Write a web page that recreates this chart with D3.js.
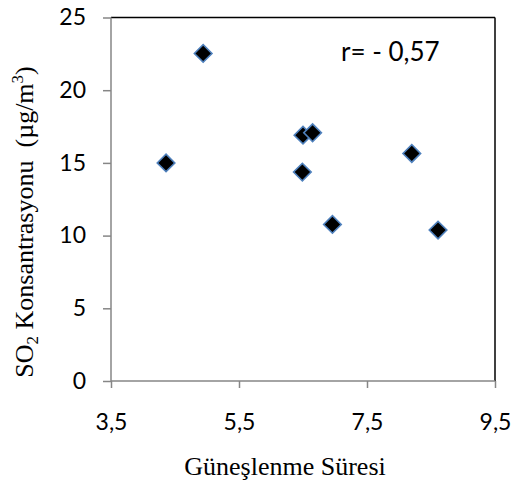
<!DOCTYPE html>
<html><head><meta charset="utf-8">
<script src="https://cdn.jsdelivr.net/npm/d3@7"></script>
<style>body{margin:0;background:#fff}svg{display:block}</style>
</head><body>
<svg id="c" width="514" height="491"></svg>
<script>
const xValues = [4.36, 4.94, 6.50, 6.65, 6.49, 8.20, 6.96, 8.61];
const yValues = [15.0, 22.53, 16.91, 17.07, 14.37, 15.65, 10.77, 10.38];
const xTicks = [3.5, 5.5, 7.5, 9.5];
const yTicks = [0, 5, 10, 15, 20, 25];
const xTitle = "Güneşlenme Süresi";
const rLabel = "r= - 0,57";

const svg = d3.select("#c");
const L = 111, R = 495, T = 17.5, B = 381;
const x = d3.scaleLinear().domain([3.5, 9.5]).range([L, R]);
const y = d3.scaleLinear().domain([0, 25]).range([B, T]);
const fmt = d => String(d).replace(".", ",");

svg.append("line").attr("x1", L).attr("x2", R).attr("y1", T).attr("y2", T).attr("stroke", "#000").attr("stroke-width", 1.5);
svg.append("line").attr("x1", R).attr("x2", R).attr("y1", T).attr("y2", B).attr("stroke", "#000").attr("stroke-width", 1.5);

const gx = svg.append("g").attr("transform", `translate(0,${B})`)
  .call(d3.axisBottom(x).tickValues(xTicks).tickFormat(fmt).tickSize(7).tickPadding(26));
const gy = svg.append("g").attr("transform", `translate(${L},0)`)
  .call(d3.axisLeft(y).tickValues(yTicks).tickSize(8).tickPadding(17));
[gx, gy].forEach(g => {
  g.select(".domain").attr("stroke", "#868686").attr("stroke-width", 1.5);
  g.selectAll(".tick line").attr("stroke", "#868686").attr("stroke-width", 1.5);
  g.selectAll(".tick text").attr("font-family", "Lato, 'Open Sans', sans-serif").attr("font-size", 23).attr("fill", "#000");
});
gy.select(".domain").attr("d", `M0,${B}V${T}`);
gx.select(".domain").attr("d", `M${L},0H${R}`);

const sym = d3.symbol().type(d3.symbolSquare).size(155);
svg.append("g").selectAll("path").data(xValues.map((v, i) => [v, yValues[i]])).join("path")
  .attr("d", sym)
  .attr("transform", d => `translate(${x(d[0])},${y(d[1])}) rotate(45)`)
  .attr("fill", "#000").attr("stroke", "#4f81bd").attr("stroke-width", 1.6);

svg.append("text").attr("x", 341).attr("y", 61).attr("font-family", "Lato, 'Open Sans', sans-serif")
  .attr("font-size", 26).attr("fill", "#000").text(rLabel);

svg.append("text").attr("x", 285).attr("y", 475).attr("text-anchor", "middle")
  .attr("font-family", "'Liberation Serif', 'Times New Roman', serif").attr("font-size", 26).text(xTitle);

const yt = svg.append("text").attr("transform", "translate(33,222) rotate(-90)").attr("text-anchor", "middle")
  .attr("font-family", "'Liberation Serif', 'Times New Roman', serif").attr("font-size", 26).attr("xml:space", "preserve");
yt.append("tspan").text("SO");
yt.append("tspan").attr("font-size", 17).attr("dy", 5).text("2");
yt.append("tspan").attr("dy", -5).text(" Konsantrasyonu  (µg/m");
yt.append("tspan").attr("font-size", 17).attr("dy", -10).text("3");
yt.append("tspan").attr("dy", 10).text(")");
</script>
</body></html>
